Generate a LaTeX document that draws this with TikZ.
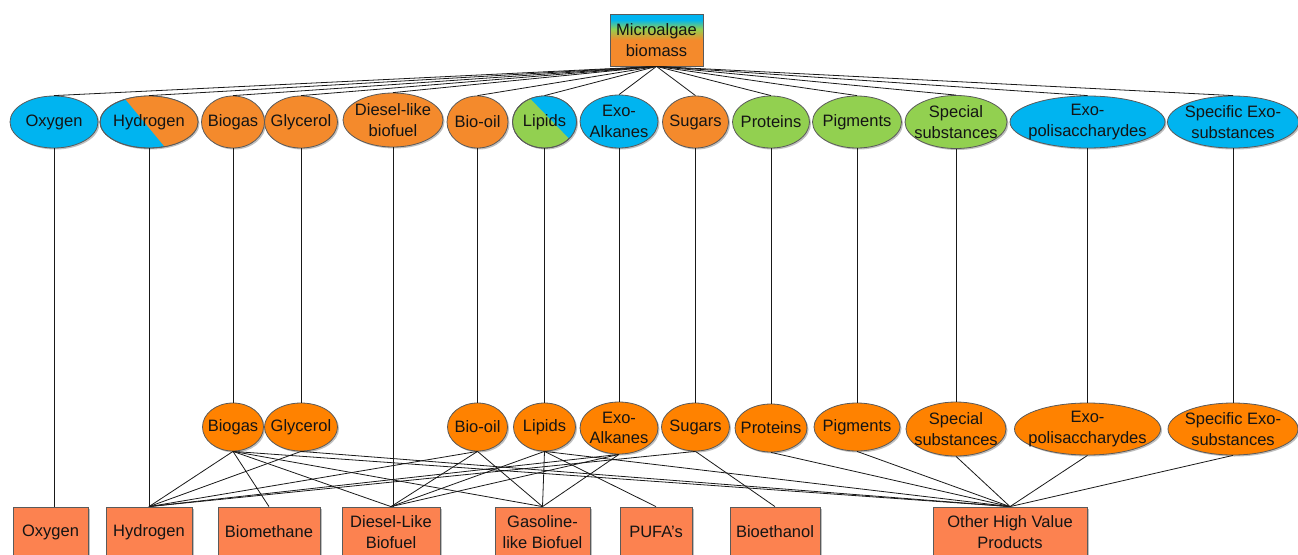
\documentclass[tikz,border=0pt]{standalone}
\usepackage{fontspec}
\setmainfont{Liberation Sans}
\usetikzlibrary{shapes.geometric,shadows}
\definecolor{cblue}{RGB}{0,180,240}
\definecolor{corng}{RGB}{244,138,44}
\definecolor{cmorng}{RGB}{255,130,0}
\definecolor{cgreen}{RGB}{146,208,80}
\definecolor{cbox}{RGB}{252,130,80}
\definecolor{cline}{RGB}{25,25,25}
\definecolor{cborder}{RGB}{90,90,90}
\definecolor{ctext}{RGB}{20,20,20}
\pgfdeclareverticalshading{mab}{100bp}{color(0bp)=(corng); color(50bp)=(corng); color(60.5bp)=(cgreen); color(69.5bp)=(cblue); color(100bp)=(cblue)}
\begin{document}
\begin{tikzpicture}[x=1pt,y=-1pt,
  every node/.style={font=\fontsize{16.5}{20.5}\selectfont, text=ctext, align=center, inner sep=0pt},
  shd/.style={drop shadow={shadow xshift=1.5pt, shadow yshift=-1.5pt, opacity=0.25, fill=black}},
  ell/.style n args={3}{ellipse, draw=cborder, line width=0.8pt, minimum width=#1, minimum height=#2, fill=#3, shd},
  pbox/.style={rectangle, draw=cborder, line width=0.8pt, fill=cbox, minimum height=50, shd},
  conn/.style={draw=cline, line width=0.8pt}
]
\useasboundingbox (0,0) rectangle (1298,554);
\clip (0,0) rectangle (1298,554);

% top box
\node[rectangle, draw=cborder, line width=0.8pt, shading=mab, minimum width=93, minimum height=52] (mb) at (656.5,40) {Microalgae\\biomass};

% top row
\node[ell={88}{52}{cblue}, label={center:Oxygen}] (o1) at (54,122) {};
\node[ell={98}{52}{cblue}] (h1) at (149,122) {};
\begin{scope}
  \clip (149,122) ellipse [x radius=49, y radius=26];
  \fill[corng] (116,88) -- (174,158) -- (205,158) -- (205,88) -- cycle;
\end{scope}
\draw[cborder, line width=0.8pt] (149,122) ellipse [x radius=49, y radius=26];
\node (h1t) at (149,122) {Hydrogen};
\node[ell={63}{52}{corng}, label={center:Biogas}] (bg1) at (233,122) {};
\node[ell={73}{52}{corng}, label={center:Glycerol}] (gl1) at (301,122) {};
\node[ell={100}{54}{corng}, label={center:Diesel-like\\biofuel}] (dl1) at (393,120) {};
\node[ell={61}{52}{corng}, label={center:Bio-oil}] (bo1) at (477.5,122) {};
\node[ell={64}{52}{cgreen}] (li1) at (544.5,122) {};
\begin{scope}
  \clip (544.5,122) ellipse [x radius=32, y radius=26];
  \fill[cblue] (520,88) -- (588,158) -- (600,158) -- (600,88) -- cycle;
\end{scope}
\draw[cborder, line width=0.8pt] (544.5,122) ellipse [x radius=32, y radius=26];
\node (li1t) at (544.5,122) {Lipids};
\node[ell={78}{53}{cblue}, label={center:Exo-\\Alkanes}] (ea1) at (619,121.5) {};
\node[ell={66}{52}{corng}, label={center:Sugars}] (su1) at (695.5,122) {};
\node[ell={77}{52}{cgreen}, label={center:Proteins}] (pr1) at (771,122) {};
\node[ell={89}{52}{cgreen}, label={center:Pigments}] (pi1) at (857,122) {};
\node[ell={102}{53}{cgreen}, label={center:Special\\substances}] (ss1) at (956,122) {};
\node[ell={155}{52}{cblue}, label={center:Exo-\\polisaccharydes}] (ep1) at (1087.5,122) {};
\node[ell={131}{52}{cblue}, label={center:Specific Exo-\\substances}] (se1) at (1233,122) {};

% middle row
\node[ell={61}{48}{cmorng}, label={center:Biogas}] (bg2) at (233,427) {};
\node[ell={73}{48}{cmorng}, label={center:Glycerol}] (gl2) at (301,427) {};
\node[ell={60}{48}{cmorng}, label={center:Bio-oil}] (bo2) at (477.5,427) {};
\node[ell={62}{48}{cmorng}, label={center:Lipids}] (li2) at (544.5,427) {};
\node[ell={78}{52}{cmorng}, label={center:Exo-\\Alkanes}] (ea2) at (619,428) {};
\node[ell={68}{48}{cmorng}, label={center:Sugars}] (su2) at (695.5,427) {};
\node[ell={72}{48}{cmorng}, label={center:Proteins}] (pr2) at (771,428) {};
\node[ell={86}{48}{cmorng}, label={center:Pigments}] (pi2) at (857,427) {};
\node[ell={100}{54}{cmorng}, label={center:Special\\substances}] (ss2) at (956,429) {};
\node[ell={146}{52}{cmorng}, label={center:Exo-\\polisaccharydes}] (ep2) at (1087.5,429) {};
\node[ell={130}{52}{cmorng}, label={center:Specific Exo-\\substances}] (se2) at (1233,429) {};

% bottom boxes
\node[pbox, minimum width=75] (bO) at (50.5,532) {Oxygen};
\node[pbox, minimum width=86] (bH) at (149,532) {Hydrogen};
\node[pbox, minimum width=102] (bB) at (269,532) {Biomethane};
\node[pbox, minimum width=98] (bD) at (391,532) {Diesel-Like\\Biofuel};
\node[pbox, minimum width=95] (bG) at (542.5,532) {Gasoline-\\like Biofuel};
\node[pbox, minimum width=72] (bP) at (656,532) {PUFA's};
\node[pbox, minimum width=90] (bE) at (775,532) {Bioethanol};
\node[pbox, minimum width=154] (bX) at (1010,532) {Other High Value\\Products};

% connectors: biomass to top row
\foreach \n in {o1,h1,bg1,gl1,dl1,bo1,li1,ea1,su1,pr1,pi1,ss1,ep1,se1}
  \draw[conn] (mb.south) -- (\n.north);

% top to middle / bottom
\draw[conn] (o1.south) -- (o1.south |- bO.north);
\draw[conn] (h1.south) -- (h1.south |- bH.north);
\draw[conn] (dl1.south) -- (dl1.south |- bD.north);
\foreach \a/\b in {bg1/bg2,gl1/gl2,bo1/bo2,li1/li2,ea1/ea2,su1/su2,pr1/pr2,pi1/pi2,ss1/ss2,ep1/ep2,se1/se2}
  \draw[conn] (\a.south) -- (\b.north);

% middle to bottom
\foreach \a/\b in {bg2/bH,bg2/bB,bg2/bD,bg2/bG,bg2/bX,
                   gl2/bH,gl2/bX,
                   bo2/bH,bo2/bD,bo2/bG,
                   li2/bD,li2/bG,li2/bP,li2/bX,
                   ea2/bH,ea2/bD,ea2/bG,
                   su2/bH,su2/bE,
                   pr2/bX,pi2/bX,ss2/bX,ep2/bX,se2/bX}
  \draw[conn] (\a.south) -- (\b.north);
\end{tikzpicture}
\end{document}
